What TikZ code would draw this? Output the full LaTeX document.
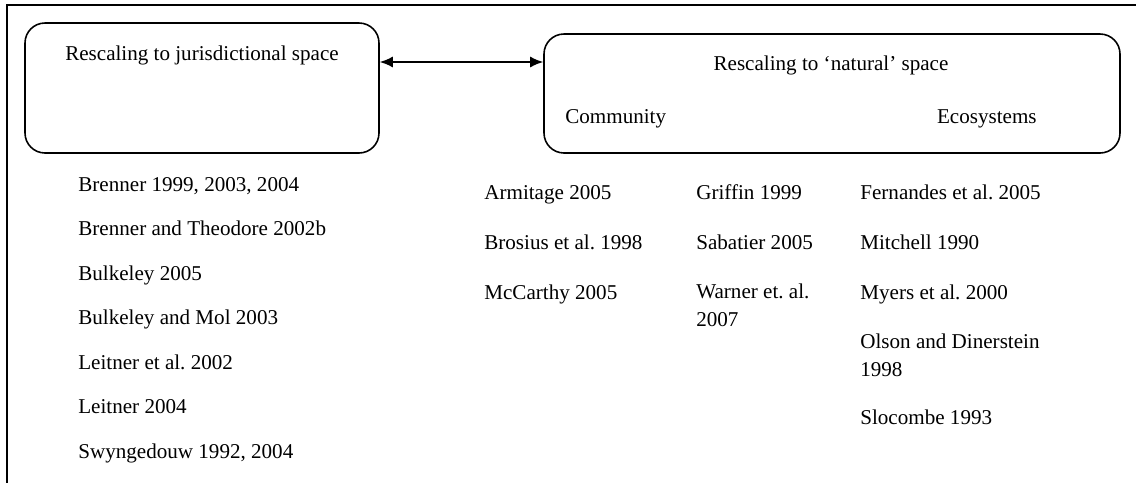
\documentclass[tikz,border=0pt]{standalone}
\usepackage{fontspec}
\setmainfont{Liberation Serif}
\usetikzlibrary{positioning, arrows.meta, calc}
\frenchspacing

\begin{document}
\begin{tikzpicture}[box/.style={draw, rounded corners=.4cm, line width=.9pt, inner sep=0pt},
    ref/.style={anchor=base west, inner sep=0pt, align=left},
    font=\fontsize{12}{15.4}\selectfont]

        \useasboundingbox (0,0) rectangle (22.72,-9.66);

        % FRAME
        \draw[line width=1.7pt] (22.72,-.1) -- (.14,-.1) -- (.14,-9.66);

        % BOXES
        \node[box, minimum width=7.08cm, minimum height=2.6cm] (jur) at (4.04,-1.76) {};
        \node[box, minimum width=11.52cm, minimum height=2.38cm] (nat) at (16.64,-1.87) {};
        \node[anchor=base, inner sep=0pt] (jurtitle) at (4.04,-1.2) {Rescaling to jurisdictional space};
        \node[anchor=base, inner sep=0pt] (nattitle) at (16.62,-1.4) {Rescaling to ‘natural’ space};
        \node[anchor=base west, inner sep=0pt] (comm) at (11.3,-2.46) {Community};
        \node[anchor=base east, inner sep=0pt] (eco) at (20.74,-2.46) {Ecosystems};

        % ARROW (BOTH WAYS)
        \coordinate (lvl) at (9,-1.24);
        \draw[{Latex[length=2.6mm,width=2.2mm]}-{Latex[length=2.6mm,width=2.2mm]}, line width=.9pt]
            (jur.east |- lvl) -- (nat.west |- lvl);

        % JURISDICTIONAL REFERENCES
        \node[ref] (b1) at (1.56,-3.82) {Brenner 1999, 2003, 2004};
        \node[ref] (b2) at (1.56,-4.71) {Brenner and Theodore 2002b};
        \node[ref] (b3) at (1.56,-5.60) {Bulkeley 2005};
        \node[ref] (b4) at (1.56,-6.49) {Bulkeley and Mol 2003};
        \node[ref] (b5) at (1.56,-7.38) {Leitner et al. 2002};
        \node[ref] (b6) at (1.56,-8.27) {Leitner 2004};
        \node[ref] (b7) at (1.56,-9.16) {Swyngedouw 1992, 2004};

        % COMMUNITY REFERENCES (NOTE: base = LAST LINE)
        \node[ref] (c1) at (9.68,-3.98) {Armitage 2005};
        \node[ref] (c2) at (9.68,-4.98) {Brosius et al. 1998};
        \node[ref] (c3) at (9.68,-5.98) {McCarthy 2005};
        \node[ref] (g1) at (13.92,-3.98) {Griffin 1999};
        \node[ref] (g2) at (13.92,-4.98) {Sabatier 2005};
        \node[ref] (g3) at (13.92,-6.52) {Warner et. al.\\2007};

        % ECOSYSTEM REFERENCES
        \node[ref] (e1) at (17.2,-3.98) {Fernandes et al. 2005};
        \node[ref] (e2) at (17.2,-4.98) {Mitchell 1990};
        \node[ref] (e3) at (17.2,-5.98) {Myers et al. 2000};
        \node[ref] (e4) at (17.2,-7.52) {Olson and Dinerstein\\1998};
        \node[ref] (e5) at (17.2,-8.48) {Slocombe 1993};

    \end{tikzpicture}
\end{document}
